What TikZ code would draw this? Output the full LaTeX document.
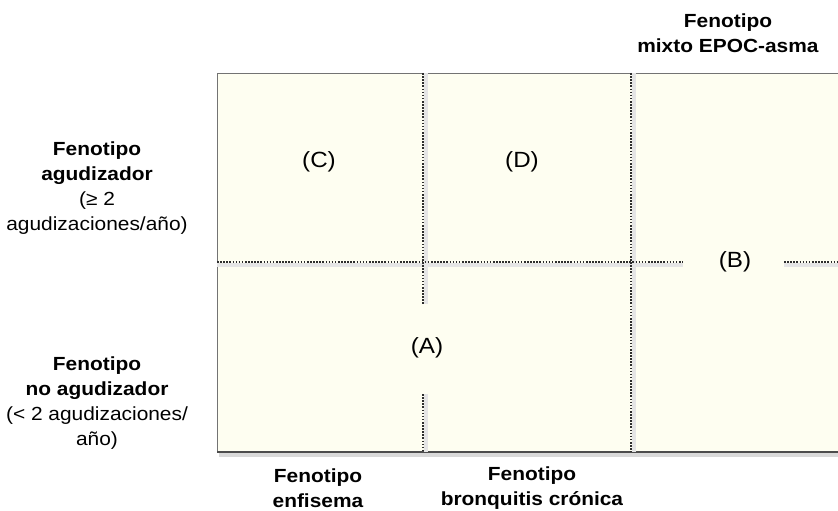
\documentclass[tikz,border=0pt]{standalone}
\usepackage{fontspec}
\setmainfont[FakeStretch=1.1]{Liberation Sans}
\usetikzlibrary{positioning}
\definecolor{cuadro}{RGB}{254,254,241}
\definecolor{punteado}{RGB}{45,45,45}

\begin{document}
\begin{tikzpicture}[x=1pt,y=-1pt]
            \tikzstyle{titulo}=[align=center,inner sep=0pt,font=\fontsize{19}{25}\selectfont]
            \tikzstyle{letra}=[inner sep=0pt,font=\fontsize{22}{25}\selectfont]
            \tikzstyle{divisor}=[punteado,line width=2pt,dash pattern=on 1.6pt off 1.5pt]
            \tikzstyle{sombra}=[black!10,line width=4pt]
            \useasboundingbox[fill=white] (0,0) rectangle (838,511);

            \coordinate (nw) at (217,73);
            \coordinate (ne) at (838,73);
            \coordinate (sw) at (217,452);
            \coordinate (se) at (838,452);

            \fill[black!15] (219,452) rectangle (838,457);
            \draw[black!55,line width=0.8pt,fill=cuadro] (ne) -- (nw) -- (sw) -- (se);
            \draw[black!70,line width=1.4pt] (sw) -- (se);

            \coordinate (v1a) at (423,73);
            \coordinate (v1b) at (423,304);
            \coordinate (v1c) at (423,394);
            \coordinate (v1d) at (423,452);
            \coordinate (v2a) at (631,73);
            \coordinate (v2b) at (631,452);
            \coordinate (h1a) at (217,262);
            \coordinate (h1b) at (683,262);
            \coordinate (h2a) at (784,262);
            \coordinate (h2b) at (838,262);

            \draw[sombra] ([xshift=2.5pt]v1a) -- ([xshift=2.5pt]v1b);
            \draw[sombra] ([xshift=2.5pt]v1c) -- ([xshift=2.5pt]v1d);
            \draw[sombra] ([xshift=2.5pt]v2a) -- ([xshift=2.5pt]v2b);
            \draw[sombra] ([yshift=-2.5pt]h1a) -- ([yshift=-2.5pt]h1b);
            \draw[sombra] ([yshift=-2.5pt]h2a) -- ([yshift=-2.5pt]h2b);

            \draw[divisor] (v1a) -- (v1b);
            \draw[divisor] (v1c) -- (v1d);
            \draw[divisor] (v2a) -- (v2b);
            \draw[divisor] (h1a) -- (h1b);
            \draw[divisor] (h2a) -- (h2b);

            \node[letra] (C) at (319,162) {(C)};
            \node[letra] (D) at (522,162) {(D)};
            \node[letra] (B) at (735,262) {(B)};
            \node[letra] (A) at (427,348) {(A)};

            \node[titulo] (agud) at (97,188) {\textbf{Fenotipo}\\\textbf{agudizador}\\(≥ 2\\agudizaciones/año)};
            \node[titulo] (noagud) at (97,403) {\textbf{Fenotipo}\\\textbf{no agudizador}\\(< 2 agudizaciones/\\año)};
            \node[titulo] (enf) at (318,488) {\textbf{Fenotipo}\\\textbf{enfisema}};
            \node[titulo] (bron) at (532,488) {\textbf{Fenotipo}\\\textbf{bronquitis crónica}};
            \node[titulo] (mixto) at (728,33) {\textbf{Fenotipo}\\\textbf{mixto EPOC-asma}};
\end{tikzpicture}
\end{document}
